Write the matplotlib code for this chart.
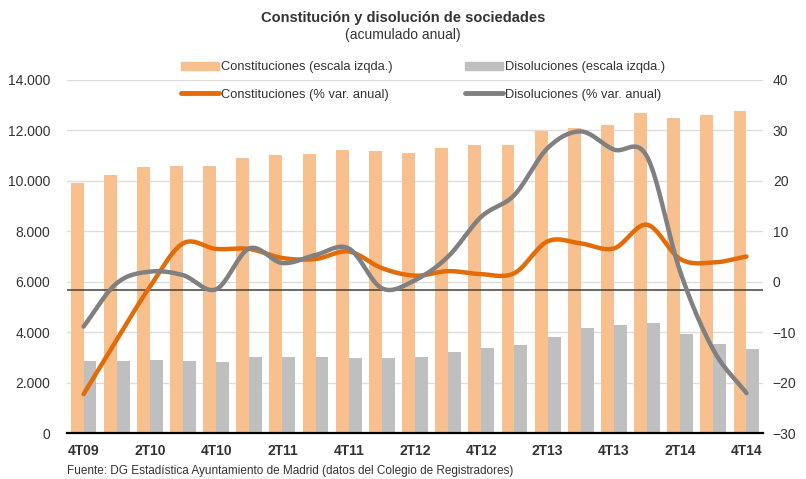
from matplotlib import pyplot as plt
from matplotlib.patches import Patch
from matplotlib.lines import Line2D
from matplotlib.ticker import FuncFormatter
import numpy as np

plt.rcParams['font.family'] = ['Liberation Sans', 'DejaVu Sans']

quarters = ["4T09", "1T10", "2T10", "3T10", "4T10", "1T11", "2T11", "3T11", "4T11",
            "1T12", "2T12", "3T12", "4T12", "1T13", "2T13", "3T13", "4T13",
            "1T14", "2T14", "3T14", "4T14"]
constituciones = [9930, 10230, 10530, 10570, 10600, 10890, 11020, 11060, 11240, 11190,
                  11110, 11300, 11420, 11430, 11980, 12110, 12200, 12710, 12490, 12610, 12780]
disoluciones = [2860, 2850, 2900, 2860, 2820, 3020, 3000, 3000, 2990, 2980,
                3030, 3210, 3390, 3480, 3810, 4170, 4290, 4370, 3940, 3540, 3330]
constit_var = [-22.3, -11.5, -1.0, 7.6, 6.5, 6.5, 4.7, 4.5, 6.0, 2.7,
               1.2, 2.1, 1.5, 1.7, 8.0, 7.6, 6.6, 11.3, 4.5, 3.8, 5.0]
disol_var = [-8.9, -0.3, 2.0, 1.3, -1.5, 6.6, 3.7, 5.3, 6.6, -1.3,
             0.3, 5.0, 12.9, 17.2, 26.5, 29.8, 26.2, 24.8, 2.0, -13.5, -22.1]

orange_bar = "#F9C08F"
gray_bar = "#BFBFBF"
orange_line = "#E36C09"
gray_line = "#808080"
txt = "#333333"


def smooth(x, y, n=20):
    # catmull-rom, como las lineas suavizadas de Excel
    x = np.asarray(x, float)
    y = np.asarray(y, float)
    px = np.concatenate([[2 * x[0] - x[1]], x, [2 * x[-1] - x[-2]]])
    py = np.concatenate([[2 * y[0] - y[1]], y, [2 * y[-1] - y[-2]]])
    xs, ys = [], []
    t = np.linspace(0, 1, n, endpoint=False)
    for i in range(1, len(px) - 2):
        for p, out in ((px, xs), (py, ys)):
            p0, p1, p2, p3 = p[i - 1], p[i], p[i + 1], p[i + 2]
            out.extend(0.5 * ((2 * p1) + (-p0 + p2) * t + (2 * p0 - 5 * p1 + 4 * p2 - p3) * t ** 2
                              + (-p0 + 3 * p1 - 3 * p2 + p3) * t ** 3))
    xs.append(x[-1])
    ys.append(y[-1])
    return xs, ys


fig = plt.figure(figsize=(8.06, 4.79), dpi=100)
ax = fig.add_axes([0.0831, 0.096, 0.8636, 0.737])
x = np.arange(len(quarters))
w = 0.39

ax.bar(x - w / 2, constituciones, width=w, color=orange_bar, zorder=2)
ax.bar(x + w / 2, disoluciones, width=w, color=gray_bar, zorder=2)
ax.set_ylim(0, 14000)
ax.set_yticks(range(0, 14001, 2000))
ax.yaxis.set_major_formatter(FuncFormatter(lambda v, p: f"{int(v):,}".replace(",", ".")))
ax.grid(axis="y", color="#DDDDDD", lw=1, zorder=0)
ax.set_axisbelow(True)
ax.axhline(5680, color="#404040", lw=1.1, zorder=3)
ax.set_xlim(-0.5, len(quarters) - 0.5)
ax.set_xticks(x[::2])
ax.set_xticklabels(quarters[::2], fontweight="bold", fontsize=10, color=txt)

ax2 = ax.twinx()
sx, sy = smooth(x, constit_var)
ax2.plot(sx, sy, color=orange_line, lw=3.2, solid_capstyle="round")
sx, sy = smooth(x, disol_var)
ax2.plot(sx, sy, color=gray_line, lw=3.2, solid_capstyle="round")
ax2.set_ylim(-30, 40)
ax2.set_yticks(range(-30, 41, 10))

for a in (ax, ax2):
    for s in ("top", "left", "right"):
        a.spines[s].set_visible(False)
    a.spines["bottom"].set_visible(False)
    a.tick_params(length=0, labelsize=10, labelcolor=txt)
ax.spines["bottom"].set_visible(True)
ax.spines["bottom"].set_color("black")
ax.spines["bottom"].set_linewidth(1.6)
ax.tick_params(axis="y", pad=12)
ax.tick_params(axis="x", pad=8)
ax2.tick_params(axis="y", pad=7)

handles = [Patch(color=orange_bar), Line2D([], [], color=orange_line, lw=3.5, solid_capstyle="round"),
           Patch(color=gray_bar), Line2D([], [], color=gray_line, lw=3.5, solid_capstyle="round")]
labels = ["Constituciones (escala izqda.)", "Constituciones (% var. anual)",
          "Disoluciones (escala izqda.)", "Disoluciones (% var. anual)"]
fig.legend(handles, labels, ncol=2, loc="center", bbox_to_anchor=(0.525, 0.831),
           frameon=False, fontsize=9.3, handlelength=2.9, handleheight=0.6,
           handletextpad=0.2, columnspacing=5.6, labelspacing=1.2, labelcolor=txt)

fig.text(0.5, 0.962, "Constitución y disolución de sociedades", ha="center", va="center",
         fontsize=10.5, fontweight="bold", color=txt)
fig.text(0.5, 0.926, "(acumulado anual)", ha="center", va="center", fontsize=10, color=txt)
fig.text(0.083, 0.0167, "Fuente: DG Estadística Ayuntamiento de Madrid (datos del Colegio de Registradores)",
         ha="left", va="center", fontsize=8.5, color=txt)

fig.savefig("out.png", dpi=100)
